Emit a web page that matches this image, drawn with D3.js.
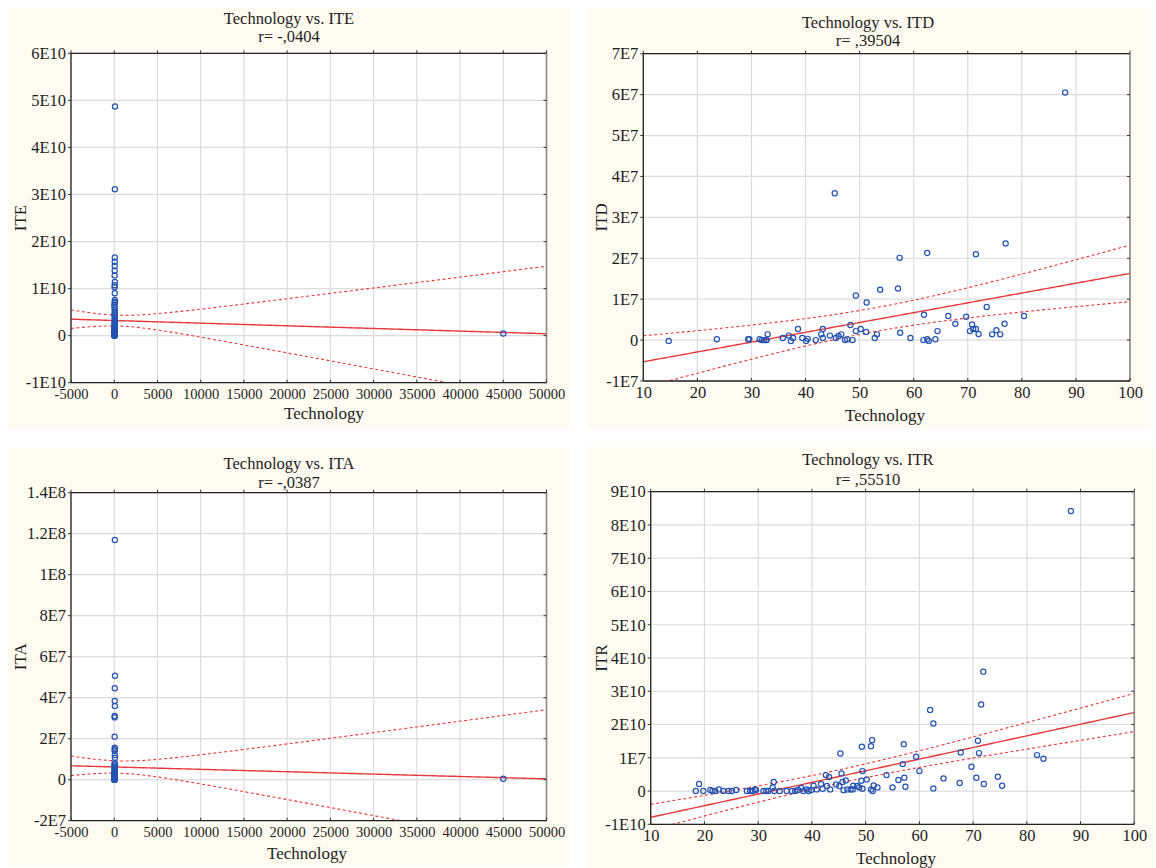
<!DOCTYPE html>
<html><head><meta charset="utf-8">
<script src="https://cdn.jsdelivr.net/npm/d3@7"></script>
<style>
body{margin:0;background:#ffffff;}
svg{display:block}
text{font-family:"Liberation Serif","DejaVu Serif",serif;fill:#1e1e1e}
</style>
</head><body><svg id="c" width="1156" height="868"></svg>
<script>
// ---------------- DATA ----------------
const titles = ["Technology vs. ITE", "Technology vs. ITD", "Technology vs. ITA", "Technology vs. ITR"];
const rTexts = ["r= -,0404", "r= ,39504", "r= -,0387", "r= ,55510"];
const yNames = ["ITE", "ITD", "ITA", "ITR"];
const xName = "Technology";

const xTicksWide = [-5000,0,5000,10000,15000,20000,25000,30000,35000,40000,45000,50000];
const xTickLabelsWide = ["-5000","0","5000","10000","15000","20000","25000","30000","35000","40000","45000","50000"];
const xTicksNarrow = [10,20,30,40,50,60,70,80,90,100];
const xTickLabelsNarrow = ["10","20","30","40","50","60","70","80","90","100"];

const iteTicks = [-1e10,0,1e10,2e10,3e10,4e10,5e10,6e10];
const iteTickLabels = ["-1E10","0","1E10","2E10","3E10","4E10","5E10","6E10"];
const itdTicks = [-1e7,0,1e7,2e7,3e7,4e7,5e7,6e7,7e7];
const itdTickLabels = ["-1E7","0","1E7","2E7","3E7","4E7","5E7","6E7","7E7"];
const itaTicks = [-2e7,0,2e7,4e7,6e7,8e7,1e8,1.2e8,1.4e8];
const itaTickLabels = ["-2E7","0","2E7","4E7","6E7","8E7","1E8","1.2E8","1.4E8"];
const itrTicks = [-1e10,0,1e10,2e10,3e10,4e10,5e10,6e10,7e10,8e10,9e10];
const itrTickLabels = ["-1E10","0","1E7","2E10","3E10","4E10","5E10","6E10","7E10","8E10","9E10"];

// [Technology, ITE]
const itePoints = [
 [88,4.87e10],[72,3.11e10],[62,1.66e10],[63,1.57e10],[57,1.48e10],[51,1.38e10],[49,1.28e10],
 [72,1.14e10],[51,1.07e10],[45,1.03e10],[60,0.90e10],[68,0.76e10],[70,0.72e10],[57,0.69e10],
 [10,0.64e10],[59,0.59e10],[54,0.55e10],[66,0.51e10],[43,0.47e10],[42,0.44e10],[56,0.40e10],
 [65,0.37e10],[71,0.34e10],[46,0.31e10],[75,0.28e10],[47,0.26e10],[38,0.24e10],[50,0.22e10],
 [40,0.20e10],[44,0.18e10],[76,0.16e10],[33,0.15e10],[41,0.13e10],[37,0.12e10],[49,0.11e10],
 [35,0.10e10],[48,0.09e10],[29,0.08e10],[39,0.07e10],[31,0.06e10],[36,0.05e10],[52,0.05e10],
 [32,0.04e10],[27,0.04e10],[30,0.03e10],[25,0.03e10],[34,0.03e10],[22,0.02e10],[19,0.02e10],
 [24,0.02e10],[28,0.02e10],[21,0.01e10],[26,0.01e10],[20,0.01e10],[23,0.01e10],[18,0.01e10],
 [32,0.005e10],[31,0.004e10],[29,0.003e10],[37,0.002e10],[39,0.001e10],[41,0.0005e10],
 [45000,0.045e10]
];
// [Technology, ITD]
const itdPoints = [
 [14.7,-0.02e7],[23.6,0.02e7],[29.4,0.02e7],[29.6,0.02e7],[31.5,0.02e7],[31.9,0],[32.3,0],
 [32.7,0],[33.0,0.14e7],[32.8,0],[35.8,0.05e7],[36.9,0.11e7],[37.3,-0.02e7],[37.7,0.05e7],
 [38.6,0.27e7],[39.4,0.05e7],[40.1,-0.02e7],[40.4,0.03e7],[41.9,0],[42.9,0.14e7],[43.2,0.27e7],
 [43.2,0.05e7],[44.5,0.11e7],[45.4,3.59e7],[45.6,0.05e7],[46.1,0.10e7],[46.6,0.14e7],
 [47.3,0],[47.7,0.02e7],[48.3,0.37e7],[48.7,0],[49.3,1.09e7],[49.3,0.22e7],[50.2,0.27e7],
 [51.2,0.20e7],[51.3,0.92e7],[52.8,0.05e7],[53.2,0.14e7],[53.8,1.23e7],[57.1,1.26e7],
 [57.4,2.01e7],[57.5,0.18e7],[59.4,0.05e7],[61.8,0],[61.9,0.62e7],[62.5,2.13e7],[62.5,0.02e7],
 [62.8,-0.02e7],[64.0,0.02e7],[64.4,0.22e7],[66.4,0.59e7],[67.7,0.40e7],[69.7,0.57e7],
 [70.4,0.22e7],[70.8,0.38e7],[71.0,0.27e7],[71.5,2.10e7],[71.5,0.27e7],[72.0,0.15e7],
 [73.5,0.81e7],[74.5,0.14e7],[75.3,0.24e7],[76.0,0.14e7],[76.8,0.40e7],[77.0,2.36e7],
 [80.4,0.59e7],[88.0,6.05e7]
];
// [Technology, ITA]
const itaPoints = [
 [72,11.69e7],[88,5.07e7],[62,4.46e7],[57,3.84e7],[71,3.60e7],[51,3.11e7],[49,3.04e7],
 [45,2.10e7],[63,1.56e7],[60,1.49e7],[54,1.41e7],[66,1.20e7],[77,1.07e7],[43,0.80e7],
 [70,0.75e7],[68,0.70e7],[10,0.65e7],[47,0.60e7],[56,0.55e7],[42,0.50e7],[65,0.45e7],
 [38,0.40e7],[50,0.35e7],[40,0.30e7],[44,0.27e7],[76,0.24e7],[33,0.20e7],[41,0.17e7],
 [37,0.14e7],[35,0.12e7],[48,0.10e7],[29,0.08e7],[39,0.06e7],[31,0.05e7],[36,0.04e7],
 [32,0.03e7],[27,0.02e7],[30,0.015e7],[25,0.01e7],[22,0.008e7],[19,0.005e7],[24,0.003e7],
 [28,0.002e7],[21,0.001e7],[45000,0.05e7]
];
// [Technology, ITR]
const itrPoints = [
 [18.4,0],[19.0,0.21e10],[19.8,0],[21.1,0.03e10],[21.5,0],[22.0,0],[22.7,0.05e10],[23.5,0],
 [24.5,0],[25.1,0],[25.9,0.03e10],[27.9,0],[28.5,0],[29.0,0],[29.4,0.05e10],[29.6,0.03e10],
 [31.0,0],[31.5,0],[31.9,0],[32.7,0.11e10],[32.9,0.27e10],[33.0,0],[34.0,0],[35.3,0],[36.3,0],
 [36.9,0],[37.4,0.03e10],[38.0,0.09e10],[38.4,0],[39.0,0.05e10],[39.4,0],[39.9,0.03e10],
 [40.3,0.16e10],[40.9,0.05e10],[41.7,0.21e10],[42.0,0.07e10],[42.6,0.48e10],[42.8,0.15e10],
 [43.2,0.42e10],[43.4,0.05e10],[44.5,0.20e10],[45.1,0.15e10],[45.3,1.13e10],[45.5,0.53e10],
 [45.7,0.27e10],[45.9,0.02e10],[46.3,0.32e10],[46.6,0.05e10],[47.2,0.05e10],[47.6,0.05e10],
 [47.7,0.16e10],[48.4,0.15e10],[48.8,0.11e10],[49.2,0.31e10],[49.3,1.33e10],[49.4,0.60e10],
 [49.4,0.07e10],[50.2,0.35e10],[51.0,1.35e10],[51.0,0.05e10],[51.2,1.53e10],[51.3,0],
 [51.5,0.17e10],[52.2,0.11e10],[53.9,0.48e10],[55.0,0.11e10],[56.1,0.33e10],[56.9,0.81e10],
 [57.1,1.41e10],[57.2,0.40e10],[57.4,0.13e10],[59.4,1.03e10],[60.0,0.60e10],[62.0,2.44e10],
 [62.6,2.03e10],[62.6,0.08e10],[64.5,0.38e10],[67.5,0.24e10],[67.7,1.16e10],[69.7,0.73e10],
 [70.6,0.40e10],[70.9,1.51e10],[71.1,1.14e10],[71.5,2.60e10],[71.9,3.59e10],[72.0,0.21e10],
 [74.6,0.43e10],[75.4,0.16e10],[81.9,1.08e10],[83.1,0.97e10],[88.2,8.42e10]
];

// regression fit: [intercept, slope, xMean, bandHalfWidthAtMean, bandHalfWidthSlope]
const iteFit = [3.218e9, -56364, 500, 1.15e9, 2.889e5];
const itdFit = [-7.7e6, 2.4e5, 52.7, 2.9e6, 1.324e5];
const itaFit = [6.218e6, -116.36, 500, 3.0e6, 678.8];
const itrFit = [-1.14e10, 3.5e8, 44.5, 2.0e9, 9.71e7];

// ---------------- LAYOUT ----------------
const panels = [
 {bg:[8,8,570,428], px:[71,546.5], py:[53.3,382.7], tx:289, ty:[24,41.5], xl:[324,419], ylx:20,
  xd:[-5000,50000], yd:[-1e10,6e10], xt:xTicksWide, xtl:xTickLabelsWide, yt:iteTicks, ytl:iteTickLabels,
  pts:itePoints, fit:iteFit, xfs:14.5, xpad:6},
 {bg:[587,8,1151,428], px:[643.3,1130], py:[53.7,381], tx:868, ty:[28,46], xl:[885,421], ylx:601,
  xd:[10,100], yd:[-1e7,7e7], xt:xTicksNarrow, xtl:xTickLabelsNarrow, yt:itdTicks, ytl:itdTickLabels,
  pts:itdPoints, fit:itdFit, xfs:16.5, xpad:5},
 {bg:[8,448,569,867], px:[71,546.5], py:[492.7,820.7], tx:289, ty:[469,488], xl:[307,859], ylx:20,
  xd:[-5000,50000], yd:[-2e7,1.4e8], xt:xTicksWide, xtl:xTickLabelsWide, yt:itaTicks, ytl:itaTickLabels,
  pts:itaPoints, fit:itaFit, xfs:14.5, xpad:6},
 {bg:[587,447,1154,868], px:[650.7,1134.3], py:[491.7,824.3], tx:868, ty:[465,485], xl:[896,864], ylx:601,
  xd:[10,100], yd:[-1e10,9e10], xt:xTicksNarrow, xtl:xTickLabelsNarrow, yt:itrTicks, ytl:itrTickLabels,
  pts:itrPoints, fit:itrFit, xfs:16.5, xpad:5}
];

const svg = d3.select("#c");
const RED = "#e8383c";
const BLUE = "#2553b3";
const FONT = '"Liberation Serif","DejaVu Serif",serif';

panels.forEach((p, i) => {
  const g = svg.append("g");
  g.append("rect").attr("x", p.bg[0]).attr("y", p.bg[1])
    .attr("width", p.bg[2]-p.bg[0]).attr("height", p.bg[3]-p.bg[1]).attr("fill", "#fffbf1");

  const x = d3.scaleLinear().domain(p.xd).range(p.px);
  const y = d3.scaleLinear().domain(p.yd).range([p.py[1], p.py[0]]);

  g.append("rect").attr("x", p.px[0]).attr("y", p.py[0])
    .attr("width", p.px[1]-p.px[0]).attr("height", p.py[1]-p.py[0]).attr("fill", "#ffffff");

  // grid
  g.append("g").selectAll("line").data(p.xt).join("line")
    .attr("x1", d => x(d)).attr("x2", d => x(d)).attr("y1", p.py[0]).attr("y2", p.py[1])
    .attr("stroke", "#dcdcdc").attr("stroke-width", 1.2);
  g.append("g").selectAll("line").data(p.yt).join("line")
    .attr("y1", d => y(d)).attr("y2", d => y(d)).attr("x1", p.px[0]).attr("x2", p.px[1])
    .attr("stroke", "#dcdcdc").attr("stroke-width", 1.2);

  const cid = "clip" + i;
  g.append("clipPath").attr("id", cid).append("rect")
    .attr("x", p.px[0]).attr("y", p.py[0]).attr("width", p.px[1]-p.px[0]).attr("height", p.py[1]-p.py[0]);

  // regression line and 95% confidence bands
  const [a, b, x0, h0, k] = p.fit;
  const xs = d3.range(0, 201).map(j => p.xd[0] + (p.xd[1]-p.xd[0]) * j / 200);
  const hw = xv => Math.sqrt(h0*h0 + (k*(xv-x0))*(k*(xv-x0)));
  const line = d3.line().x(d => x(d[0])).y(d => y(d[1]));
  const lg = g.append("g").attr("clip-path", `url(#${cid})`);
  lg.append("path").attr("d", line(xs.map(v => [v, a + b*v + hw(v)])))
    .attr("fill", "none").attr("stroke", RED).attr("stroke-width", 1.1).attr("stroke-dasharray", "3,2.5");
  lg.append("path").attr("d", line(xs.map(v => [v, a + b*v - hw(v)])))
    .attr("fill", "none").attr("stroke", RED).attr("stroke-width", 1.1).attr("stroke-dasharray", "3,2.5");
  lg.append("path").attr("d", line(xs.map(v => [v, a + b*v])))
    .attr("fill", "none").attr("stroke", RED).attr("stroke-width", 1.4);

  // points
  g.append("g").selectAll("circle").data(p.pts).join("circle")
    .attr("cx", d => x(d[0])).attr("cy", d => y(d[1])).attr("r", 2.6)
    .attr("fill", "none").attr("stroke", BLUE).attr("stroke-width", 1.2);

  // frame
  g.append("line").attr("x1", p.px[0]).attr("x2", p.px[1]).attr("y1", p.py[0]).attr("y2", p.py[0])
    .attr("stroke", "#222").attr("stroke-width", 1.3);
  g.append("line").attr("x1", p.px[1]).attr("x2", p.px[1]).attr("y1", p.py[0]).attr("y2", p.py[1])
    .attr("stroke", "#8a8a8a").attr("stroke-width", 1.6);
  g.append("line").attr("x1", p.px[0]).attr("x2", p.px[0]).attr("y1", p.py[0]).attr("y2", p.py[1])
    .attr("stroke", "#222").attr("stroke-width", 1.3);
  g.append("line").attr("x1", p.px[0]).attr("x2", p.px[1]).attr("y1", p.py[1]).attr("y2", p.py[1])
    .attr("stroke", "#222").attr("stroke-width", 1.3);

  // tick marks
  g.append("g").selectAll("line").data(p.yt).join("line")
    .attr("x1", p.px[1] - 3).attr("x2", p.px[1]).attr("y1", d => y(d)).attr("y2", d => y(d))
    .attr("stroke", "#333");
  g.append("g").selectAll("line").data(p.yt).join("line")
    .attr("x1", p.px[0] - 3).attr("x2", p.px[0]).attr("y1", d => y(d)).attr("y2", d => y(d))
    .attr("stroke", "#333");
  g.append("g").selectAll("line").data(p.xt).join("line")
    .attr("x1", d => x(d)).attr("x2", d => x(d)).attr("y1", p.py[1] - 3).attr("y2", p.py[1])
    .attr("stroke", "#333");
  g.append("g").selectAll("line").data(p.xt).join("line")
    .attr("x1", d => x(d)).attr("x2", d => x(d)).attr("y1", p.py[0] - 3).attr("y2", p.py[0])
    .attr("stroke", "#333");

  // tick labels via d3 axes
  const ya = d3.axisLeft(y).tickValues(p.yt).tickFormat((d, j) => p.ytl[j]).tickSize(0).tickPadding(5);
  const yg = g.append("g").attr("transform", `translate(${p.px[0]},0)`).call(ya)
    .attr("font-family", FONT).attr("font-size", 16.5);
  yg.select(".domain").remove();
  yg.selectAll("text").attr("fill", "#1e1e1e");

  const xa = d3.axisBottom(x).tickValues(p.xt).tickFormat((d, j) => p.xtl[j]).tickSize(0).tickPadding(p.xpad);
  const xg = g.append("g").attr("transform", `translate(0,${p.py[1]})`).call(xa)
    .attr("font-family", FONT).attr("font-size", p.xfs);
  xg.select(".domain").remove();
  xg.selectAll("text").attr("fill", "#1e1e1e");

  // titles and axis names
  g.append("text").attr("x", p.tx).attr("y", p.ty[0]).attr("text-anchor", "middle")
    .attr("font-size", 16.5).text(titles[i]);
  g.append("text").attr("x", p.tx).attr("y", p.ty[1]).attr("text-anchor", "middle")
    .attr("font-size", 16.5).text(rTexts[i]);
  g.append("text").attr("x", p.xl[0]).attr("y", p.xl[1]).attr("text-anchor", "middle")
    .attr("font-size", 17).text(xName);
  g.append("text").attr("transform", `translate(${p.ylx},${(p.py[0]+p.py[1])/2}) rotate(-90)`)
    .attr("text-anchor", "middle").attr("dy", "0.35em").attr("font-size", 17).text(yNames[i]);
});
</script></body></html>
